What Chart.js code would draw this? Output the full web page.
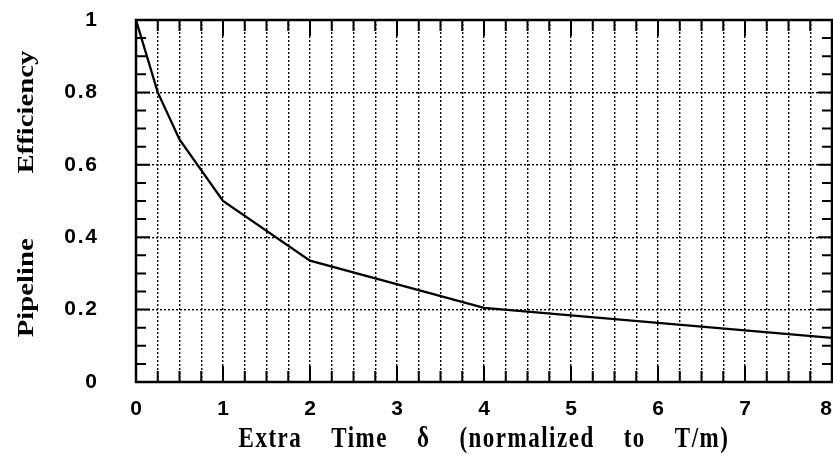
<!DOCTYPE html>
<html>
<head>
<meta charset="utf-8">
<script src="https://cdn.jsdelivr.net/npm/chart.js@4"></script>
<style>
  body { margin: 0; background: #fff; }
  #wrap { width: 833px; height: 455px; }
</style>
</head>
<body>
<div id="wrap"><canvas id="effChart" width="833" height="455"></canvas></div>
<script>
// extra time delta (normalized to T/m) and pipeline efficiency
const deltaValues = [0, 0.25, 0.5, 1, 2, 4, 8];
const efficiencyValues = [1, 0.8, 0.67, 0.5, 0.335, 0.205, 0.122];
const xTickLabels = ["0", "1", "2", "3", "4", "5", "6", "7", "8"];
const yTickLabels = ["0", "0.2", "0.4", "0.6", "0.8", "1"];
const xTitle = "Extra    Time    \u03b4    (normalized    to    T/m)";
const yTitleWords = ["Pipeline", "Efficiency"];

const points = deltaValues.map((d, i) => ({ x: d, y: efficiencyValues[i] }));

// inward tick marks on all four sides + the frame
const innerTicks = {
  id: "innerTicks",
  afterDraw(chart) {
    const { ctx, chartArea: a, scales } = chart;
    ctx.save();
    ctx.strokeStyle = "#000";
    ctx.lineWidth = 2;
    ctx.beginPath();
    for (let i = 1; i < 32; i++) {
      const px = scales.x.getPixelForValue(i * 0.25);
      const len = i % 4 === 0 ? 16 : 11;
      ctx.moveTo(px, a.bottom); ctx.lineTo(px, a.bottom - len);
      ctx.moveTo(px, a.top); ctx.lineTo(px, a.top + len);
    }
    for (let i = 1; i < 20; i++) {
      const py = scales.y.getPixelForValue(i * 0.05);
      const len = i % 4 === 0 ? 14 : 10;
      ctx.moveTo(a.left, py); ctx.lineTo(a.left + len, py);
      ctx.moveTo(a.right, py); ctx.lineTo(a.right - len, py);
    }
    ctx.stroke();
    ctx.lineWidth = 2.5;
    ctx.strokeRect(a.left, a.top, a.right - a.left, a.bottom - a.top);
    ctx.restore();
  }
};

// axis titles in a tall, narrow serif like the original print
const axisTitles = {
  id: "axisTitles",
  afterDraw(chart) {
    const { ctx, chartArea: a } = chart;
    ctx.save();
    ctx.fillStyle = "#000";
    ctx.font = "bold 23px 'Liberation Serif'";
    ctx.textAlign = "center";
    ctx.textBaseline = "alphabetic";
    // x title
    ctx.save();
    ctx.letterSpacing = "1.5px";
    ctx.translate((a.left + a.right) / 2, 447);
    ctx.scale(1, 1.25);
    ctx.fillText(xTitle, 0, 0);
    ctx.restore();
    // y title, rotated
    ctx.save();
    ctx.translate(33, 194);
    ctx.rotate(-Math.PI / 2);
    ctx.scale(1.25, 1);
    ctx.fillText(yTitleWords.join("         "), 0, 0);
    ctx.restore();
    ctx.restore();
  }
};

new Chart(document.getElementById("effChart"), {
  type: "scatter",
  data: {
    datasets: [{
      data: points,
      showLine: true,
      borderColor: "#000",
      borderWidth: 2.3,
      pointRadius: 0,
      tension: 0,
    }],
  },
  options: {
    responsive: false,
    animation: false,
    layout: { padding: { top: 20, right: 1, left: 0, bottom: 0 } },
    plugins: { legend: { display: false }, tooltip: { enabled: false } },
    scales: {
      x: {
        type: "linear",
        min: 0, max: 8,
        afterFit: (s) => { s.height = 73; s.paddingRight = 0; s.paddingLeft = 0; },
        border: { display: false, dash: [2, 2] },
        grid: {
          drawTicks: false,
          color: (c) => (c.tick.value > 0 && c.tick.value < 8 ? "#000" : "rgba(0,0,0,0)"),
          lineWidth: 1.4,
        },
        ticks: {
          stepSize: 0.25,
          autoSkip: false,
          maxRotation: 0,
          padding: 15,
          color: "#000",
          font: { family: "Liberation Sans", weight: "bold", size: 21 },
          callback: (v) => {
            if (!Number.isInteger(v)) return "";
            return v === 8 ? xTickLabels[v] + "  " : xTickLabels[v];
          },
        },
      },
      y: {
        min: 0, max: 1,
        afterFit: (s) => { s.width = 136; s.paddingTop = 0; s.paddingBottom = 0; },
        border: { display: false, dash: [2, 2] },
        grid: {
          drawTicks: false,
          color: (c) => (c.tick.value > 0 && c.tick.value < 1 ? "#000" : "rgba(0,0,0,0)"),
          lineWidth: 1.4,
        },
        ticks: {
          stepSize: 0.2,
          padding: 39,
          color: "#000",
          font: { family: "Liberation Sans", weight: "bold", size: 21 },
          callback: (v, i) => yTickLabels[i].split("").join("\u200a"),
        },
      },
    },
  },
  plugins: [innerTicks, axisTitles],
});
</script>
</body>
</html>
